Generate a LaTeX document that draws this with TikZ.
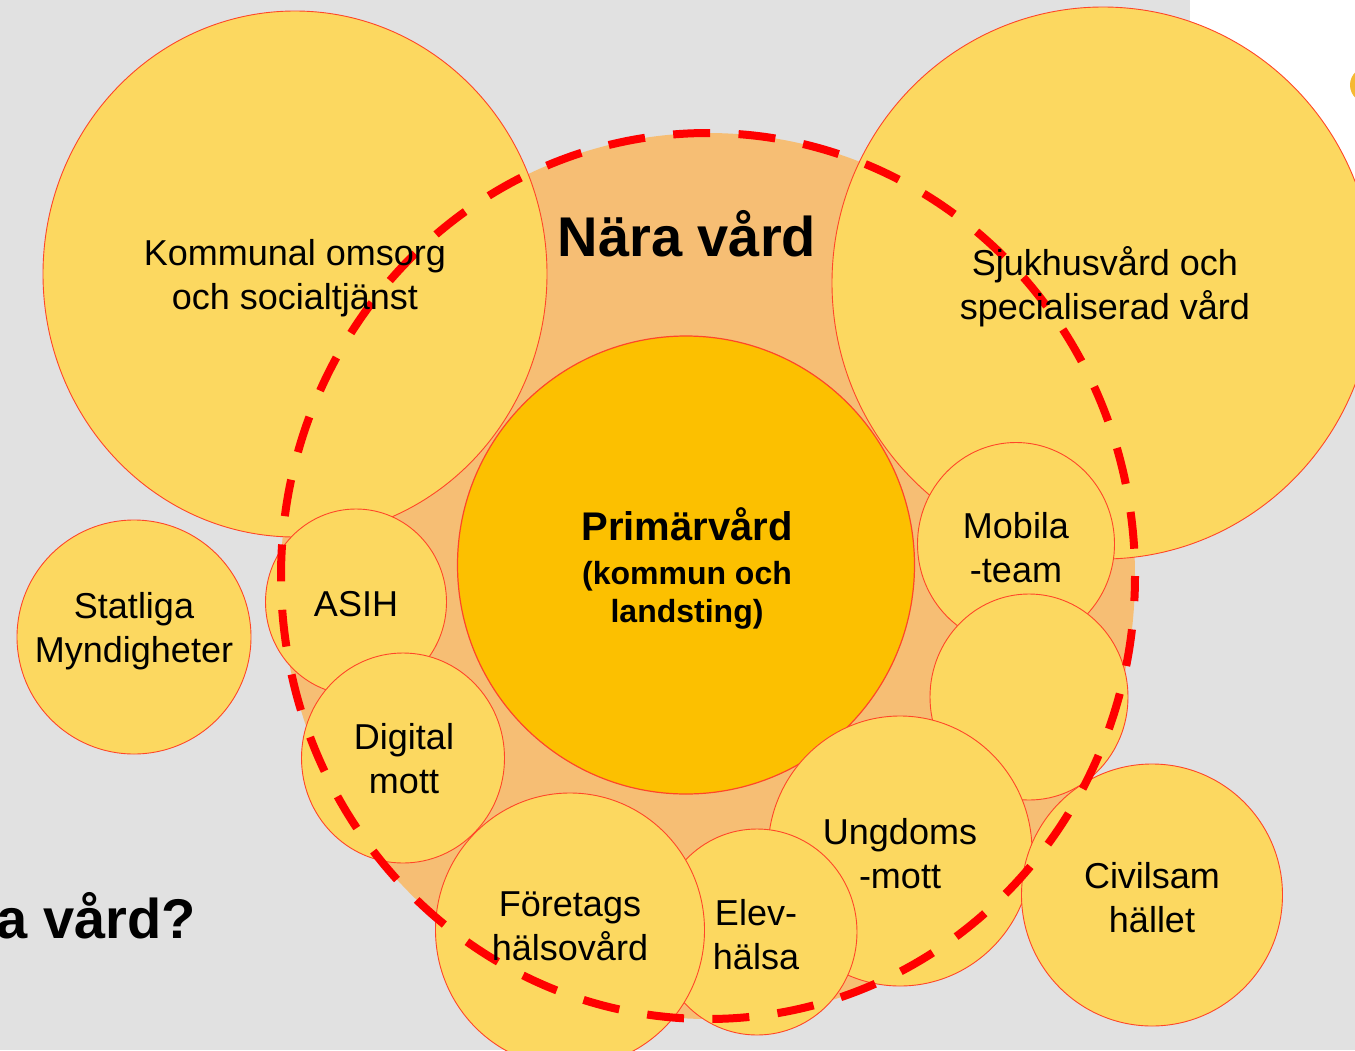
\documentclass[tikz,border=0pt]{standalone}
\usepackage{fontspec}
\setmainfont{Liberation Sans}
\usetikzlibrary{shapes.geometric}
\definecolor{bggray}{RGB}{225,225,225}
\definecolor{bubyellow}{RGB}{252,216,96}
\definecolor{naraorange}{RGB}{246,190,116}
\definecolor{primgold}{RGB}{252,192,0}
\definecolor{edgered}{RGB}{255,70,40}
\definecolor{dashred}{RGB}{255,0,0}
\definecolor{arcorange}{RGB}{245,185,50}
\begin{document}
\begin{tikzpicture}[x=1pt,y=-1pt,
  bub/.style={ellipse,draw=edgered,line width=0.9pt,fill=bubyellow,inner sep=0pt,outer sep=0pt},
  txt/.style={align=center,font=\fontsize{36}{44}\selectfont,text=black,inner sep=0pt},
  bigtitle/.style={font=\fontsize{56}{60}\selectfont\bfseries,text=black,inner sep=0pt}]
\useasboundingbox (0,0) rectangle (1355,1050);
\fill[bggray] (0,0) rectangle (1355,1050);
\fill[white] (1190,0) rectangle (1355,250);
% partial circle at the top right edge
\node[ellipse,fill=arcorange,minimum width=36,minimum height=36,inner sep=0pt] (edgearc) at (1368,85) {};
% Nära vård area
\node[ellipse,fill=naraorange,minimum width=854,minimum height=886,inner sep=0pt,outer sep=0pt] (nara) at (708,576) {};
% large bubbles
\node[bub,minimum width=504,minimum height=526] (kommunal) at (295,274) {};
\node[bub,minimum width=542,minimum height=552] (sjukhus) at (1103,283) {};
\node[ellipse,draw=edgered,line width=1.2pt,fill=primgold,inner sep=0pt,outer sep=0pt,minimum width=457,minimum height=458] (prim) at (686,565) {};
\node[bub,minimum width=234,minimum height=234] (statliga) at (134,637) {};
\node[bub,minimum width=181,minimum height=186] (asih) at (356,602) {};
\node[bub,minimum width=203,minimum height=210] (digital) at (403,758) {};
\node[bub,minimum width=197,minimum height=203] (mobila) at (1016,544) {};
\node[bub,minimum width=198,minimum height=206] (blank) at (1029,697) {};
\node[bub,minimum width=264,minimum height=270] (ungdoms) at (900,851) {};
\node[bub,minimum width=200,minimum height=206] (elev) at (757,932) {};
\node[bub,minimum width=269,minimum height=274] (foretags) at (570,930) {};
\node[bub,minimum width=261,minimum height=262] (civil) at (1152,895) {};
% dashed boundary of Nära vård
\draw[dashred,line width=8pt,dash pattern=on 37pt off 28.4pt,dash phase=38.1pt] (nara.center) ellipse [x radius=427pt, y radius=443pt];
% texts
\node[bigtitle] (tNara) at (687,234) {Nära vård};
\node[bigtitle,anchor=base east] (tQuestion) at (196,938) {a vård?};
\node[txt] (tKommunal) at (295,278) {Kommunal omsorg\\och socialtjänst};
\node[txt] (tSjukhus) at (1105,287) {Sjukhusvård och\\specialiserad vård};
\node[txt] (tStatliga) at (134,631) {Statliga\\Myndigheter};
\node[txt] (tAsih) at (356,604) {ASIH};
\node[txt] (tDigital) at (404,759) {Digital\\mott};
\node[txt] (tMobila) at (1016,548) {Mobila\\-team};
\node[txt] (tForetags) at (570,926) {Företags\\hälsovård};
\node[txt] (tElev) at (756,935) {Elev-\\hälsa};
\node[txt] (tUngdoms) at (900,854) {Ungdoms\\-mott};
\node[txt] (tCivil) at (1152,898) {Civilsam\\hället};
\node[align=center,inner sep=0pt,text=black,font=\fontsize{32}{38}\selectfont\bfseries] (tPrim) at (687,568)
  {{\fontsize{40}{44}\selectfont Primärvård}\\[6pt](kommun och\\landsting)};
\end{tikzpicture}
\end{document}
